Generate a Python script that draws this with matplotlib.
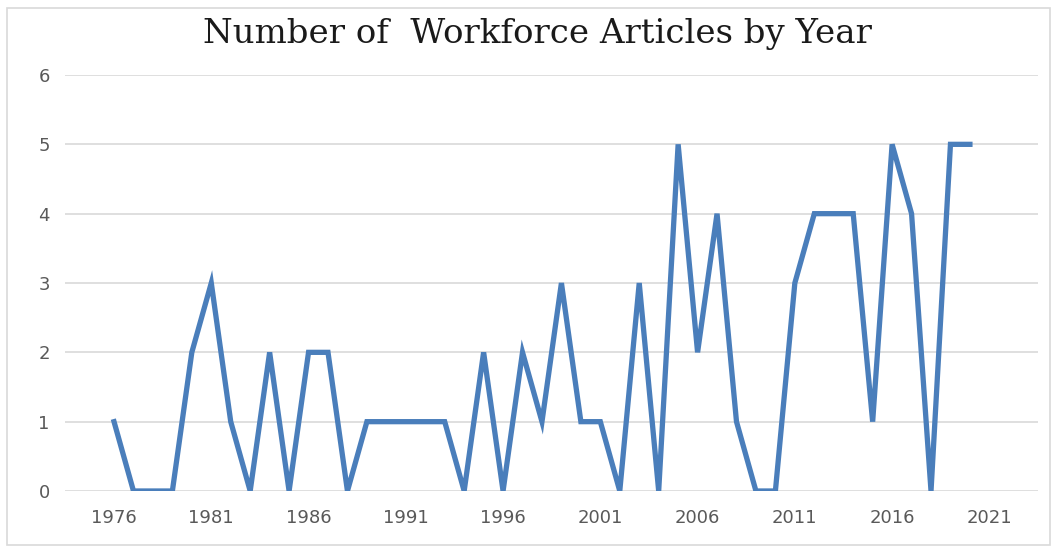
import matplotlib
matplotlib.use("Agg")
import matplotlib.pyplot as plt
from matplotlib.patches import Rectangle

years = list(range(1976, 2021))
articles = [1, 0, 0, 0, 2, 3, 1, 0, 2, 0,
            2, 2, 0, 1, 1, 1, 1, 1, 0, 2,
            0, 2, 1, 3, 1, 1, 0, 3, 0, 5,
            2, 4, 1, 0, 0, 3, 4, 4, 4, 1,
            5, 4, 0, 5, 5]
xtick_labels = [1976, 1981, 1986, 1991, 1996, 2001, 2006, 2011, 2016, 2021]
yticks = [0, 1, 2, 3, 4, 5, 6]

W, H = 1055, 548
fig = plt.figure(figsize=(W / 100, H / 100), dpi=100)
fig.patch.set_facecolor("white")

# outer border
fig.patches.append(Rectangle((7 / W, 1 - 545 / H), (1050 - 7) / W, (545 - 8) / H,
                             transform=fig.transFigure, fill=False,
                             edgecolor="#d9d9d9", linewidth=1.2))

ax = fig.add_axes([65 / W, (H - 491) / H, (1038 - 65) / W, (491 - 75) / H])
ax.plot(years, articles, color="#4a7ebb", linewidth=3.8, solid_joinstyle="miter", zorder=3)

ax.set_xlim(1973.48, 2023.5)
ax.set_ylim(0, 6)
ax.set_xticks(xtick_labels)
ax.set_xticklabels([str(v) for v in xtick_labels])
ax.set_yticks(yticks)
ax.grid(axis="y", color="#d9d9d9", linewidth=1.2, zorder=0)
ax.grid(axis="x", visible=False)
for s in ax.spines.values():
    s.set_visible(False)
ax.tick_params(axis="both", length=0, labelsize=13, labelcolor="#595959")
ax.tick_params(axis="x", pad=13)
ax.tick_params(axis="y", pad=11)

fig.text(537.5 / W, 1 - 43 / H, "Number of  Workforce Articles by Year", ha="center", va="baseline",
         fontsize=24.5, family="DejaVu Serif", color="#1a1a1a")

fig.savefig("out.png", dpi=100)
